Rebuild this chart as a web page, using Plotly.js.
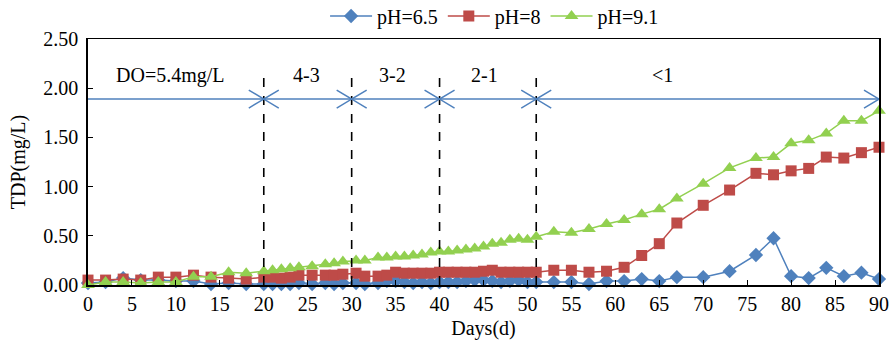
<!DOCTYPE html>
<html>
<head>
<meta charset="utf-8">
<script src="https://cdn.plot.ly/plotly-3.0.1.min.js"></script>
<style>html,body{margin:0;padding:0;background:#fff;}#chart{width:891px;height:340px;}</style>
</head>
<body>
<div id="chart"></div>
<script>
// ---- data ----
const days = [0,2,4,6,8,10,12,14,16,18,20,21,22,23,24,25.5,27,28,29,30.5,31.5,33,34,35,36,37,38,39,40,41,42,43,44,45,46,47,48,49,50,51,53,55,57,59,61,63,65,67,70,73,76,78,80,82,84,86,88,90];
const pH65 = [0.02,0.03,0.07,0.05,0.05,0.04,0.04,0.01,0.02,0.01,0.01,0.01,0.01,0.01,0.02,0.01,0.02,0.01,0.02,0.02,0.01,0.02,0.04,0.04,0.03,0.02,0.03,0.02,0.03,0.03,0.03,0.04,0.05,0.05,0.04,0.03,0.04,0.05,0.03,0.03,0.03,0.03,0.01,0.04,0.04,0.06,0.04,0.08,0.08,0.14,0.305,0.475,0.09,0.07,0.175,0.09,0.125,0.06];
const pH8  = [0.05,0.05,0.06,0.05,0.08,0.08,0.10,0.08,0.07,0.06,0.08,0.08,0.07,0.08,0.10,0.10,0.10,0.10,0.11,0.12,0.09,0.09,0.10,0.13,0.12,0.12,0.12,0.12,0.13,0.13,0.13,0.13,0.13,0.14,0.15,0.13,0.13,0.13,0.13,0.13,0.15,0.15,0.13,0.14,0.18,0.30,0.42,0.63,0.81,0.965,1.135,1.12,1.16,1.185,1.30,1.29,1.345,1.40];
const pH91 = [0.00,0.03,0.03,0.02,0.03,0.03,0.085,0.085,0.13,0.12,0.14,0.15,0.16,0.17,0.18,0.19,0.21,0.22,0.24,0.25,0.25,0.28,0.28,0.29,0.29,0.30,0.31,0.33,0.34,0.34,0.35,0.36,0.37,0.39,0.42,0.43,0.46,0.47,0.46,0.49,0.54,0.53,0.57,0.62,0.66,0.72,0.77,0.88,1.03,1.19,1.29,1.30,1.44,1.47,1.54,1.67,1.67,1.77];
const seriesNames = ["pH=6.5","pH=8","pH=9.1"];
const xTicks = [0,5,10,15,20,25,30,35,40,45,50,55,60,65,70,75,80,85,90];
const yTicks = [0,0.5,1.0,1.5,2.0,2.5];
// DO stage boundaries (days) and stage labels
const stageBounds = [20,30,40,51];
const stageEnd = 90;
const stageLabels = ["DO=5.4mg/L","4-3","3-2","2-1","<1"];
const stageLabelX = [9.4,24.9,34.6,45.1,65.4];
const arrowLevel = 1.89;
const dashTop = 2.13;
const labelLevel = 2.13;

// ---- styles ----
const FONT = "Liberation Serif, Times New Roman, serif";
const FS = 20;
const blue = "#4F81BD", red = "#BE4B48", green = "#92D050";

const traces = [
  {x: days, y: pH65, name: seriesNames[0], mode: "lines+markers", cliponaxis: false,
   line: {color: blue, width: 1.5}, marker: {symbol: "diamond", size: 11, color: blue}},
  {x: days, y: pH8, name: seriesNames[1], mode: "lines+markers", cliponaxis: false,
   line: {color: red, width: 1.5}, marker: {symbol: "square", size: 11, color: red}},
  {x: days, y: pH91, name: seriesNames[2], mode: "lines+markers", cliponaxis: false,
   line: {color: green, width: 1.5}, marker: {symbol: "triangle-up", size: 12, color: green}}
];

const shapes = [];
stageBounds.forEach(b => {
  shapes.push({type: "line", xref: "x", yref: "y", x0: b, x1: b, y0: 0, y1: dashTop,
    line: {color: "#000", width: 1.6, dash: "dash"}, layer: "above"});
});
shapes.push({type: "line", xref: "x", yref: "y", x0: 0, x1: stageEnd, y0: arrowLevel, y1: arrowLevel,
  line: {color: blue, width: 1.5}});
stageBounds.forEach(b => {
  shapes.push({type: "path", xref: "x", yref: "y", xsizemode: "pixel", ysizemode: "pixel",
    xanchor: b, yanchor: arrowLevel,
    path: "M-15,-9 L0,0 L-15,9 M15,-9 L0,0 L15,9",
    line: {color: blue, width: 1.5}});
});
shapes.push({type: "path", xref: "x", yref: "y", xsizemode: "pixel", ysizemode: "pixel",
  xanchor: stageEnd, yanchor: arrowLevel, path: "M-15,-9 L0,0 L-15,9",
  line: {color: blue, width: 1.5}});

const annotations = stageLabels.map((t, i) => ({
  x: stageLabelX[i], y: labelLevel, xref: "x", yref: "y", text: t, showarrow: false,
  xanchor: "center", yanchor: "middle", font: {family: FONT, size: FS, color: "#000"}
}));

const layout = {
  width: 891, height: 340,
  margin: {l: 88, r: 12, t: 39, b: 55, autoexpand: false},
  paper_bgcolor: "#fff", plot_bgcolor: "#fff",
  font: {family: FONT, size: FS, color: "#000"},
  showlegend: true,
  legend: {orientation: "h", x: 0.514, xanchor: "center", y: 1.0935, yanchor: "middle",
    itemwidth: 42,
    font: {family: FONT, size: FS, color: "#000"}, bgcolor: "rgba(0,0,0,0)"},
  xaxis: {range: [0, 90], tickvals: xTicks, ticktext: xTicks.map(String),
    showline: true, mirror: true, linecolor: "#000", linewidth: 1.5,
    ticks: "inside", ticklen: 5, tickcolor: "#000", tickwidth: 1,
    showgrid: false, zeroline: false, automargin: false,
    title: {text: "Days(d)", font: {family: FONT, size: FS}, standoff: 12},
    tickfont: {family: FONT, size: FS}},
  yaxis: {range: [0, 2.5], tickvals: yTicks, ticktext: yTicks.map(v => v.toFixed(2)),
    showline: true, mirror: true, linecolor: "#000", linewidth: 1.8,
    ticks: "inside", ticklen: 5, tickcolor: "#000", tickwidth: 1,
    showgrid: false, zeroline: false, automargin: false, ticklabelstandoff: 4,
    title: {text: "TDP(mg/L)", font: {family: FONT, size: FS}, standoff: 12},
    tickfont: {family: FONT, size: FS}},
  shapes: shapes,
  annotations: annotations
};

Plotly.newPlot("chart", traces, layout, {displayModeBar: false, staticPlot: true});
</script>
</body>
</html>
